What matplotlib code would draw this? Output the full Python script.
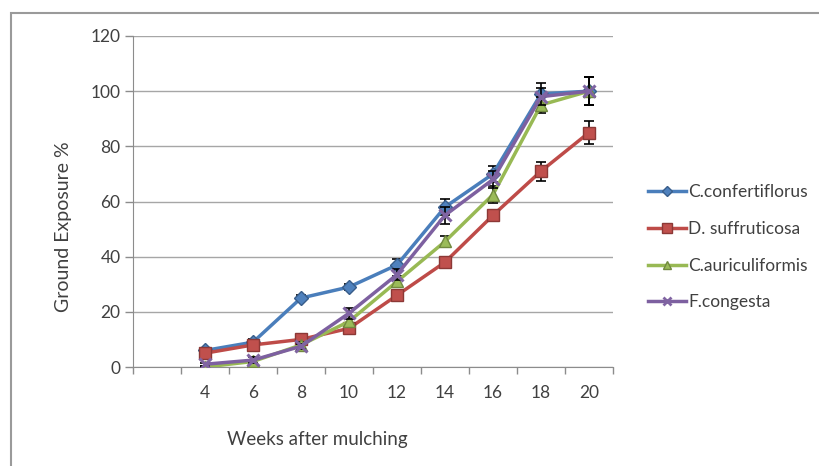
import matplotlib
matplotlib.use("Agg")
import matplotlib.pyplot as plt
from matplotlib.patches import Rectangle
from matplotlib.lines import Line2D

plt.rcParams['font.family'] = ['Lato', 'DejaVu Sans']

weeks = ["4", "6", "8", "10", "12", "14", "16", "18", "20"]
series_names = ["C.confertiflorus", "D. suffruticosa", "C.auriculiformis", "F.congesta"]
c_confertiflorus = [6, 9, 25, 29, 37, 58, 70, 99, 100]
d_suffruticosa = [5, 8, 10, 14, 26, 38, 55, 71, 85]
c_auriculiformis = [0, 2, 8, 16.5, 31, 45.5, 62.5, 95, 100]
f_congesta = [1, 2.5, 7.5, 19.5, 33.5, 55, 68, 98, 100]
err_conf = [1, 1, 1, 1, 2, 3, 3, 4, 5]
err_suff = [1, 1, 1, 1, 1.5, 2, 2, 3.5, 4.3]
err_auri = [0.5, 0.5, 1, 1, 2, 2, 3, 3, 5]
err_cong = [0.5, 1, 1, 2, 2, 3, 3, 3, 5]

values = [c_confertiflorus, d_suffruticosa, c_auriculiformis, f_congesta]
errors = [err_conf, err_suff, err_auri, err_cong]
line_colors = ["#4A7EBB", "#BE4B48", "#98B954", "#7D60A0"]
fill_colors = ["#4F81BD", "#C0504D", "#9BBB59", "#8064A2"]
edge_colors = ["#385D8A", "#8C3836", "#71893F", "#5C4776"]
markers = ["D", "s", "^", "x"]
msizes = [7, 9, 8, 8]

W, H = 819, 466
fig = plt.figure(figsize=(W / 100, H / 100), dpi=100)
fig.patch.set_facecolor("white")

# outer chart frame
fig.patches.append(Rectangle((11 / W, -0.1), 1.2, 1 - 13 / H + 0.1, transform=fig.transFigure,
                             fill=False, edgecolor="#9a9a9a", linewidth=1.5))

ax = fig.add_axes([133 / W, 1 - 367 / H, 480 / W, 331 / H])
ax.set_xlim(0, len(weeks) + 1)
ax.set_ylim(0, 120)

xpos = [i + 1.5 for i in range(len(weeks))]

for i, (name, vals, errs) in enumerate(zip(series_names, values, errors)):
    ax.errorbar(xpos, vals, yerr=errs, fmt="none", ecolor="black", elinewidth=1.2,
                capsize=3.5, capthick=1.2, zorder=3 + i)
    mk = dict(marker=markers[i], markersize=msizes[i], markerfacecolor=fill_colors[i],
              markeredgecolor=edge_colors[i] if markers[i] != "x" else fill_colors[i],
              markeredgewidth=1 if markers[i] != "x" else 2.2)
    ax.plot(xpos, vals, color=line_colors[i], linewidth=2.5, label=name, zorder=3 + i, **mk)

# grid and axes styling
ax.set_yticks(range(0, 121, 20))
ax.yaxis.grid(True, color="#a6a6a6", linewidth=1)
ax.set_axisbelow(True)
for s in ["top", "right"]:
    ax.spines[s].set_visible(False)
for s in ["left", "bottom"]:
    ax.spines[s].set_color("#8c8c8c")
ax.tick_params(axis="y", colors="#8c8c8c", length=6, width=1, labelcolor="#404040",
               labelsize=12.5, pad=3)
ax.set_xticks(range(0, len(weeks) + 2))
ax.set_xticklabels([])
ax.tick_params(axis="x", which="major", colors="#8c8c8c", length=5, width=1, direction="out")
ax.set_xticks(xpos, minor=True)
ax.set_xticklabels(weeks, minor=True)
ax.tick_params(axis="x", which="minor", length=0, labelcolor="#404040", labelsize=12.5, pad=13)

fig.text(317 / W, 1 - 440 / H, "Weeks after mulching", ha="center", va="center",
         fontsize=13.5, color="#404040")
fig.text(63 / W, 1 - 227 / H, "Ground Exposure %", ha="center", va="center",
         rotation=90, fontsize=14, color="#404040")

handles = []
for i, name in enumerate(series_names):
    handles.append(Line2D([], [], color=line_colors[i], linewidth=2.5, marker=markers[i],
                          markersize=msizes[i] - 2, markerfacecolor=fill_colors[i],
                          markeredgecolor=edge_colors[i] if markers[i] != "x" else fill_colors[i],
                          markeredgewidth=1 if markers[i] != "x" else 2))
leg = fig.legend(handles, series_names, loc="upper left", bbox_to_anchor=(648 / W, 1 - 184 / H),
                 frameon=False, fontsize=12.5, handlelength=2.2, handletextpad=0.1,
                 labelspacing=1.2, borderaxespad=0, borderpad=0)
for t in leg.get_texts():
    t.set_color("#404040")

fig.savefig("out.png", dpi=100, facecolor="white")
